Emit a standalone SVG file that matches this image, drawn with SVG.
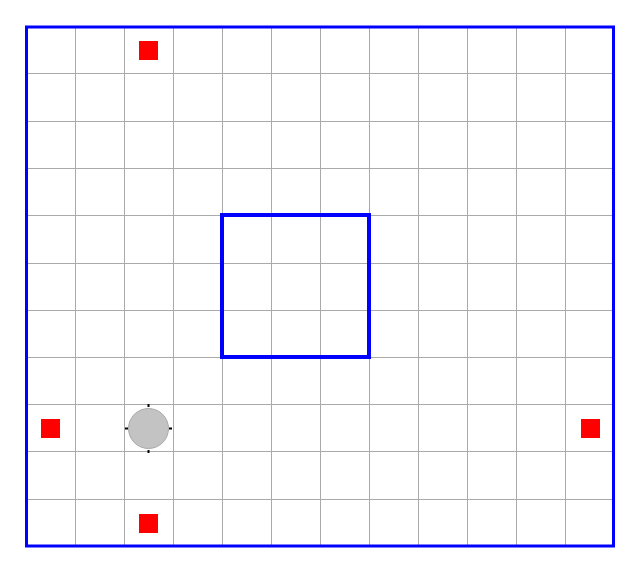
<svg xmlns="http://www.w3.org/2000/svg" width="641" height="572" viewBox="0 0 641 572">
<style>
.grid line{stroke:#aaaaaa;stroke-width:1}
.frame{fill:none;stroke:#0000ff}
.mark{fill:#ff0000}
.tick{stroke:#000;stroke-width:2}
</style>
<rect width="641" height="572" fill="#fff"/>
<g id="grid" class="grid">
<line x1="75.5" y1="27" x2="75.5" y2="546"/>
<line x1="124.5" y1="27" x2="124.5" y2="546"/>
<line x1="173.5" y1="27" x2="173.5" y2="546"/>
<line x1="222.5" y1="27" x2="222.5" y2="546"/>
<line x1="271.5" y1="27" x2="271.5" y2="546"/>
<line x1="320.5" y1="27" x2="320.5" y2="546"/>
<line x1="369.5" y1="27" x2="369.5" y2="546"/>
<line x1="418.5" y1="27" x2="418.5" y2="546"/>
<line x1="467.5" y1="27" x2="467.5" y2="546"/>
<line x1="516.5" y1="27" x2="516.5" y2="546"/>
<line x1="565.5" y1="27" x2="565.5" y2="546"/>
<line x1="26" y1="73.5" x2="614" y2="73.5"/>
<line x1="26" y1="121.5" x2="614" y2="121.5"/>
<line x1="26" y1="168.5" x2="614" y2="168.5"/>
<line x1="26" y1="215.5" x2="614" y2="215.5"/>
<line x1="26" y1="263.5" x2="614" y2="263.5"/>
<line x1="26" y1="310.5" x2="614" y2="310.5"/>
<line x1="26" y1="357.5" x2="614" y2="357.5"/>
<line x1="26" y1="404.5" x2="614" y2="404.5"/>
<line x1="26" y1="451.5" x2="614" y2="451.5"/>
<line x1="26" y1="499.5" x2="614" y2="499.5"/>
</g>
<g id="outer">
<rect class="frame" x="26.5" y="27" width="587" height="519" stroke-width="3"/>
</g>
<g id="inner">
<rect class="frame" x="222" y="215" width="147" height="142" stroke-width="4"/>
</g>
<g id="marks">
<rect id="m-top" class="mark" x="139" y="41" width="19" height="19"/>
<rect id="m-left" class="mark" x="41" y="419" width="19" height="19"/>
<rect id="m-right" class="mark" x="581" y="419" width="19" height="19"/>
<rect id="m-bottom" class="mark" x="139" y="514" width="19" height="19"/>
</g>
<g id="robot">
<circle cx="148.5" cy="428.5" r="20" fill="#b4b4b4" fill-opacity="0.8" stroke="#aaaaaa" stroke-width="1"/>
<line class="tick" x1="148.5" y1="404" x2="148.5" y2="407"/>
<line class="tick" x1="148.5" y1="450" x2="148.5" y2="453"/>
<line class="tick" x1="125" y1="428.5" x2="128" y2="428.5"/>
<line class="tick" x1="169" y1="428.5" x2="172" y2="428.5"/>
</g>
</svg>
